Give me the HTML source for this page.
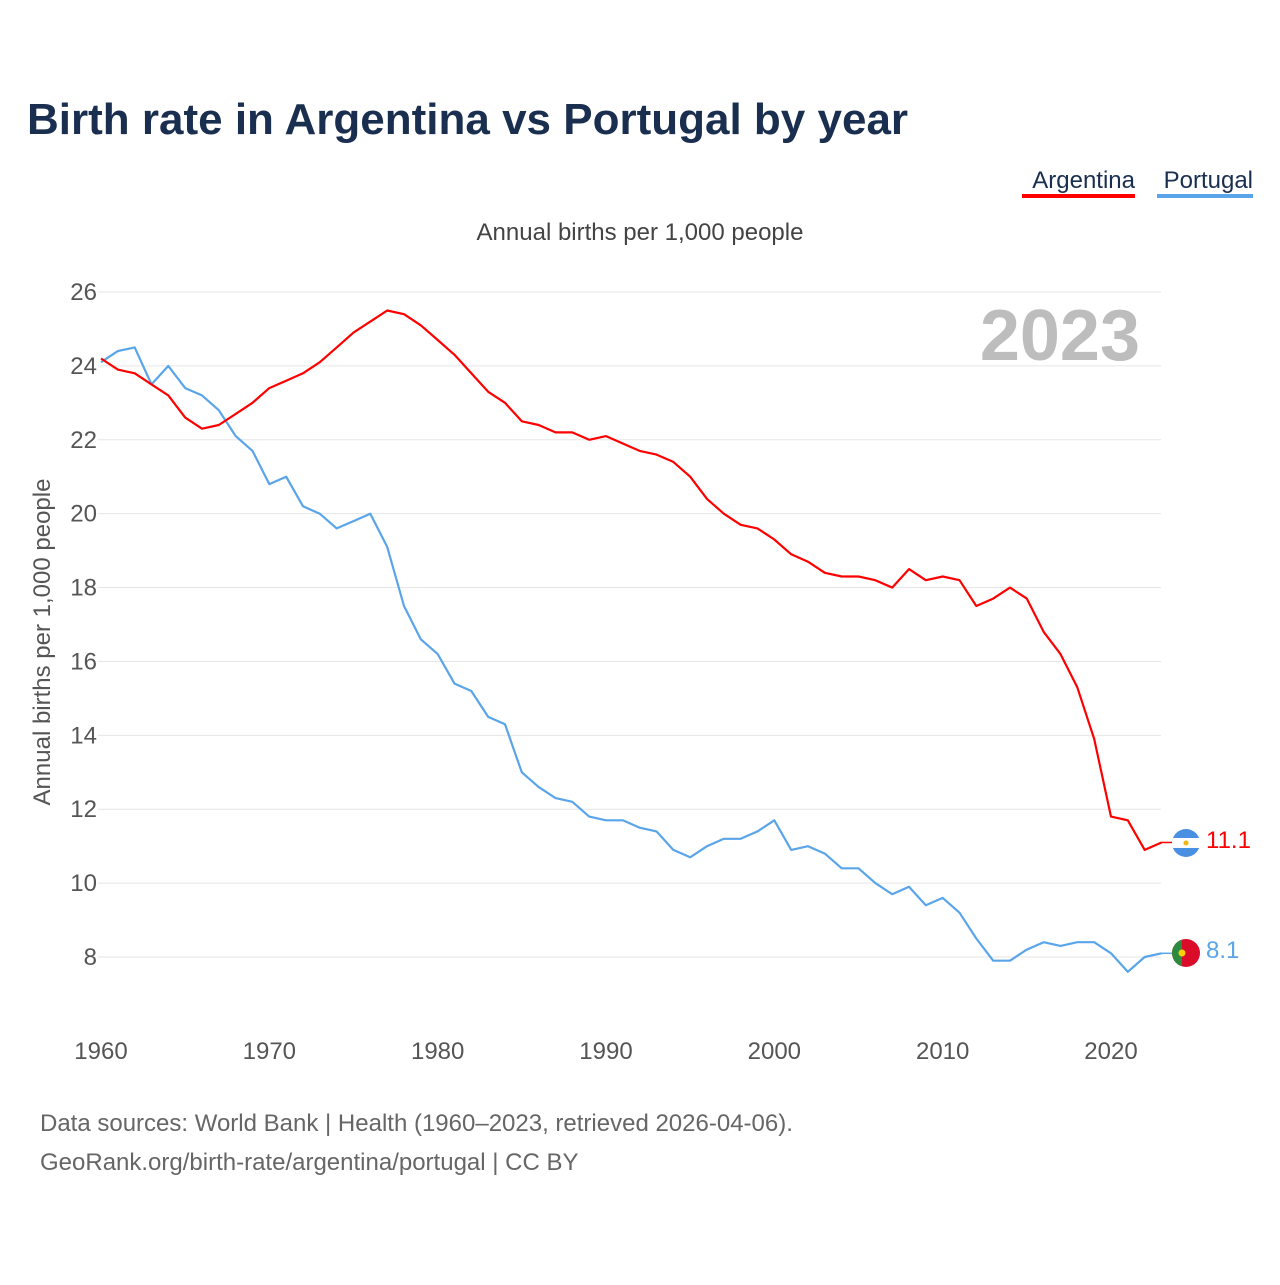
<!DOCTYPE html>
<html><head><meta charset="utf-8">
<style>
body{margin:0;background:#fff;font-family:"Liberation Sans",sans-serif;}
svg text{font-family:"Liberation Sans",sans-serif;}
</style></head>
<body>
<svg width="1280" height="1280" viewBox="0 0 1280 1280">
<text x="27" y="134" font-size="44" font-weight="bold" fill="#1a2e4f">Birth rate in Argentina vs Portugal by year</text>
<g>
<g><text x="1135" y="188" font-size="24" fill="#1a2e4f" text-anchor="end">Argentina</text><rect x="1022" y="194" width="113" height="4" fill="#ff0000"/></g>
<g><text x="1253" y="188" font-size="24" fill="#1a2e4f" text-anchor="end">Portugal</text><rect x="1157" y="194" width="96" height="4" fill="#5aa5ea"/></g>
</g>
<text x="640" y="240" font-size="24" fill="#444" text-anchor="middle">Annual births per 1,000 people</text>
<text x="50" y="642" font-size="24" fill="#555" text-anchor="middle" transform="rotate(-90 50 642)">Annual births per 1,000 people</text>
<text x="1140" y="360" font-size="72" font-weight="bold" fill="#bdbdbd" text-anchor="end">2023</text>
<g id="grid"></g>
<g id="yt"></g>
<g id="xt"></g>
<g id="lines"></g>
<g>
<clipPath id="ca"><circle cx="1186" cy="843" r="14"/></clipPath>
<g clip-path="url(#ca)"><rect x="1172" y="829" width="28" height="28" fill="#fff"/><rect x="1172" y="829" width="28" height="9" fill="#4a90e2"/><rect x="1172" y="848" width="28" height="9" fill="#4a90e2"/><circle cx="1186" cy="843" r="2.5" fill="#f6b40e"/></g></g>
<g>
<clipPath id="cp"><circle cx="1186" cy="953" r="14"/></clipPath>
<g clip-path="url(#cp)"><rect x="1172" y="939" width="28" height="28" fill="#da0c2a"/><rect x="1172" y="939" width="10" height="28" fill="#2b8a3e"/><circle cx="1182" cy="953" r="3.5" fill="#f6d10e"/></g></g>
<text x="1206" y="848" font-size="24" fill="#ff0000">11.1</text>
<text x="1206" y="958" font-size="24" fill="#5aa5ea">8.1</text>
<text x="40" y="1131" font-size="24" fill="#666">Data sources: World Bank | Health (1960–2023, retrieved 2026-04-06).</text>
<text x="40" y="1170" font-size="24" fill="#666">GeoRank.org/birth-rate/argentina/portugal | CC BY</text>
</svg>
<script>
const years=[];for(let y=1960;y<=2023;y++)years.push(y);
const argentina=[24.2,23.9,23.8,23.5,23.2,22.6,22.3,22.4,22.7,23.0,23.4,23.6,23.8,24.1,24.5,24.9,25.2,25.5,25.4,25.1,24.7,24.3,23.8,23.3,23.0,22.5,22.4,22.2,22.2,22.0,22.1,21.9,21.7,21.6,21.4,21.0,20.4,20.0,19.7,19.6,19.3,18.9,18.7,18.4,18.3,18.3,18.2,18.0,18.5,18.2,18.3,18.2,17.5,17.7,18.0,17.7,16.8,16.2,15.3,13.9,11.8,11.7,10.9,11.1];
const portugal=[24.1,24.4,24.5,23.5,24.0,23.4,23.2,22.8,22.1,21.7,20.8,21.0,20.2,20.0,19.6,19.8,20.0,19.1,17.5,16.6,16.2,15.4,15.2,14.5,14.3,13.0,12.6,12.3,12.2,11.8,11.7,11.7,11.5,11.4,10.9,10.7,11.0,11.2,11.2,11.4,11.7,10.9,11.0,10.8,10.4,10.4,10.0,9.7,9.9,9.4,9.6,9.2,8.5,7.9,7.9,8.2,8.4,8.3,8.4,8.4,8.1,7.6,8.0,8.1];
const yTicks=[8,10,12,14,16,18,20,22,24,26];
const xTicks=[1960,1970,1980,1990,2000,2010,2020];
const NS='http://www.w3.org/2000/svg';
const X=v=>101+(v-1960)*(1010/60);
const Y=v=>957-(v-8)*(665/18);
function mk(t,a,p){const e=document.createElementNS(NS,t);for(const k in a)e.setAttribute(k,a[k]);p.appendChild(e);return e;}
const grid=document.getElementById('grid'),yt=document.getElementById('yt'),xt=document.getElementById('xt'),lines=document.getElementById('lines');
yTicks.forEach(v=>{
 const l=mk('line',{x1:98,x2:1161,y1:Y(v),y2:Y(v),stroke:'#e6e6e6','stroke-width':1},grid);
 
 
 const t=mk('text',{x:97,y:Y(v)+8,'font-size':24,fill:'#555','text-anchor':'end'},yt);
 t.textContent=v;
 
 
});
xTicks.forEach(v=>{
 const t=mk('text',{x:X(v),y:1059,'font-size':24,fill:'#555','text-anchor':'middle'},xt);
 t.textContent=v;
 
 
});
function line(data,color,name){
 const d=data.map((v,i)=>(i?'L':'M')+X(years[i]).toFixed(1)+' '+Y(v).toFixed(1)).join(' ');
 const p=mk('path',{d:d,fill:'none',stroke:color,'stroke-width':2.2,'stroke-linejoin':'round'},lines);
 
 
 const last=data[data.length-1];
 const c=mk('line',{x1:X(2023),x2:1172,y1:Y(last),y2:Y(last),stroke:color,'stroke-width':1.5},lines);
 
 
}
line(portugal,'#5aa5ea','line-portugal');
line(argentina,'#ff0000','line-argentina');
</script>
</body></html>
